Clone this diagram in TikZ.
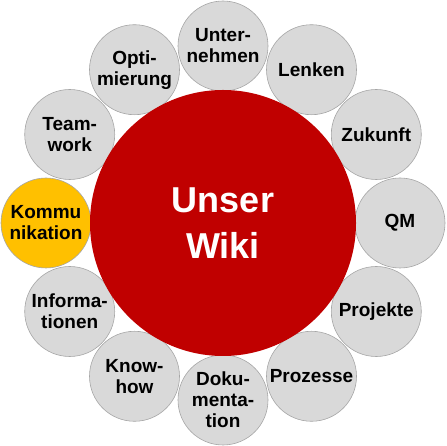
\documentclass[tikz,border=0pt]{standalone}
\usepackage{fontspec}
\setmainfont{Liberation Sans}
\definecolor{wikired}{HTML}{C00000}
\definecolor{topicgray}{HTML}{D9D9D9}
\definecolor{topicedge}{HTML}{A6A6A6}
\definecolor{focusyellow}{HTML}{FFC000}

\begin{document}
\begin{tikzpicture}[
  x=1pt,
  y=1pt,
  topic/.style={circle,draw=topicedge,line width=0.6pt,minimum size=90pt,inner sep=0pt,
    align=center,font=\fontsize{19}{21}\selectfont\bfseries,text=black},
  hub/.style={circle,fill=wikired,draw=none,minimum size=266pt,inner sep=0pt,
    align=center,font=\fontsize{36}{46}\selectfont\bfseries,text=white}
]
  % Fixed frame of the picture.
  \useasboundingbox (0,0) rectangle (446,446);
  \coordinate (center) at (223,223);

  % Ring of topics, clockwise from the top.
  \foreach \ang/\name/\col/\txt in {
      90/unternehmen/topicgray/{Unter-\\nehmen},
      60/lenken/topicgray/{Lenken},
      30/zukunft/topicgray/{Zukunft},
      0/qm/topicgray/{QM},
      -30/projekte/topicgray/{Projekte},
      -60/prozesse/topicgray/{Prozesse},
      -90/dokumentation/topicgray/{Doku-\\menta-\\tion},
      -120/knowhow/topicgray/{Know-\\how},
      -150/informationen/topicgray/{Informa-\\tionen},
      180/kommunikation/focusyellow/{Kommu\\nikation},
      150/teamwork/topicgray/{Team-\\work},
      120/optimierung/topicgray/{Opti-\\mierung}} {
    \node[topic,fill=\col] (\name) at ([shift={(\ang:177)}]center) {\txt};
  }

  % Central circle lies over the ring.
  \node[hub] (wiki) at (center) {Unser\\Wiki};
\end{tikzpicture}
\end{document}
